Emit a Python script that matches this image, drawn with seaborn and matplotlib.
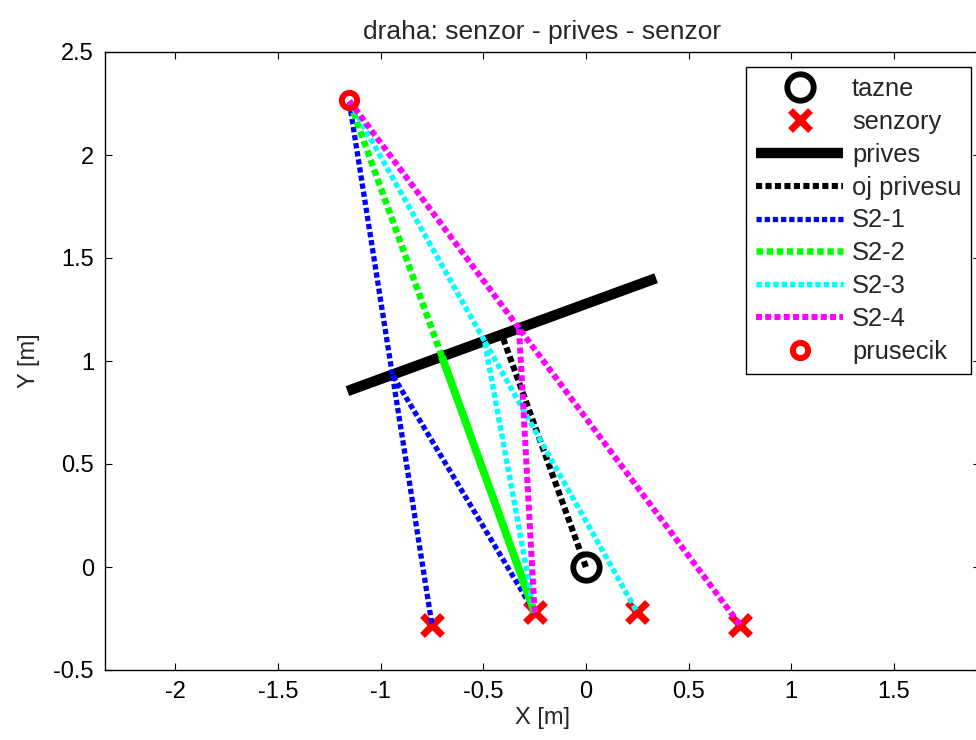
import matplotlib
matplotlib.use("Agg")
import matplotlib.pyplot as plt
import seaborn as sns

# ---- data ----
tow_x = [0.0]
tow_y = [0.0]
sensor_x = [-0.75, -0.25, 0.25, 0.75]
sensor_y = [-0.28, -0.22, -0.22, -0.28]
trailer_x = [-1.162, 0.342]
trailer_y = [0.854, 1.402]
drawbar_x = [0.0, -0.410]
drawbar_y = [0.0, 1.128]
mirror_x = [-1.154]
mirror_y = [2.265]
refl_x = [-0.943, -0.702, -0.494, -0.326]
refl_y = [0.934, 1.0225, 1.0975, 1.159]
series_names = ["S2-1", "S2-2", "S2-3", "S2-4"]
series_colors = ["#0000ff", "#00ff00", "#00ffff", "#ff00ff"]
series_widths = [3.8, 4.7, 3.9, 4.3]
xticks = [-2, -1.5, -1, -0.5, 0, 0.5, 1, 1.5]
yticks = [-0.5, 0, 0.5, 1, 1.5, 2, 2.5]
tx_index = 1  # transmitting sensor (S2)

sns.set_theme(style="white")
plt.rcParams["font.family"] = ["Liberation Sans", "DejaVu Sans"]
plt.rcParams.update({
    "xtick.direction": "in", "ytick.direction": "in",
    "xtick.top": True, "ytick.right": True,
    "xtick.bottom": True, "ytick.left": True,
    "xtick.major.size": 5, "ytick.major.size": 5,
    "xtick.major.width": 0.8, "ytick.major.width": 0.8,
    "axes.edgecolor": "black", "axes.linewidth": 1.0,
    "xtick.color": "black", "ytick.color": "black",
    "lines.solid_capstyle": "butt", "lines.dash_capstyle": "butt",
})

fig = plt.figure(figsize=(9.76, 7.4), dpi=100)
ax = fig.add_axes([105/976, 70/740, 875/976, 618/740])

dot = (0, (1, 0.55))
kw = dict(estimator=None, sort=False, ax=ax, legend=False)

# tow point
sns.lineplot(x=tow_x, y=tow_y, marker="o", linestyle="none", markersize=19,
             markerfacecolor="none", markeredgecolor="black", markeredgewidth=4.2,
             color="black", label="tazne", **kw)
# sensors
sns.lineplot(x=sensor_x, y=sensor_y, marker="x", linestyle="none", markersize=15,
             markeredgewidth=5, markeredgecolor="red", markerfacecolor="red",
             color="red", label="senzory", **kw)
# trailer
sns.lineplot(x=trailer_x, y=trailer_y, color="black", linewidth=7.5,
             label="prives", **kw)
# drawbar
sns.lineplot(x=drawbar_x, y=drawbar_y, color="black", linewidth=4.4,
             linestyle=dot, label="oj privesu", **kw)

# reflection -> mirror point, and sensor 2 -> reflection -> sensor k
s2x, s2y = sensor_x[tx_index], sensor_y[tx_index]
for i, name in enumerate(series_names):
    sns.lineplot(x=[refl_x[i], mirror_x[0]], y=[refl_y[i], mirror_y[0]],
                 color=series_colors[i], linewidth=series_widths[i],
                 linestyle=dot, label=name, **kw)
    if i == tx_index:
        # out-and-back path overlaps itself: the dots merge into a solid band
        sns.lineplot(x=[s2x, refl_x[i]], y=[s2y, refl_y[i]],
                     color=series_colors[i], linewidth=series_widths[i] * 1.2,
                     linestyle="-", **kw)
    else:
        sns.lineplot(x=[s2x, refl_x[i], sensor_x[i]], y=[s2y, refl_y[i], sensor_y[i]],
                     color=series_colors[i], linewidth=series_widths[i],
                     linestyle=dot, **kw)

# intersection (mirror point)
sns.lineplot(x=mirror_x, y=mirror_y, marker="o", linestyle="none", markersize=11,
             markerfacecolor="none", markeredgecolor="red", markeredgewidth=4.3,
             color="red", label="prusecik", **kw)

ax.set_xlim(-2.343, 1.92)
ax.set_ylim(-0.5, 2.5)
ax.set_xticks(xticks)
ax.set_xticklabels([f"{t:g}" for t in xticks])
ax.set_yticks(yticks)
ax.set_yticklabels([f"{t:g}" for t in yticks])
ax.tick_params(labelsize=17, pad=8)
ax.set_xlabel("X [m]", fontsize=17, labelpad=3)
ax.set_ylabel("Y [m]", fontsize=17, labelpad=10)
ax.set_title("draha: senzor - prives - senzor", fontsize=19, pad=9)

handles, labels = ax.get_legend_handles_labels()
leg = ax.legend(handles, labels, loc="upper right",
                bbox_to_anchor=(971/976, 1 - 67/740), bbox_transform=fig.transFigure,
                borderaxespad=0, fancybox=False, frameon=True, framealpha=1,
                edgecolor="black", fontsize=18.4, handlelength=3.4,
                handletextpad=0.35, labelspacing=0.35, borderpad=0.38)
leg.get_frame().set_linewidth(1.0)

fig.savefig("out.png", dpi=100)
